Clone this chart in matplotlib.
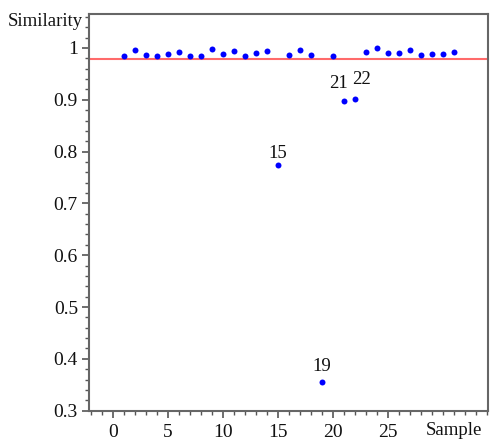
import matplotlib
matplotlib.use("Agg")
import matplotlib.pyplot as plt
from matplotlib.ticker import MultipleLocator
import matplotlib.transforms as mtransforms

samples = list(range(1, 32))
similarity = [0.985, 0.996, 0.9865, 0.985, 0.988, 0.993, 0.985, 0.985, 0.998, 0.988,
              0.994, 0.985, 0.990, 0.994, 0.774, 0.9865, 0.996, 0.9865, 0.355, 0.985,
              0.898, 0.902, 0.992, 0.9995, 0.990, 0.990, 0.996, 0.9865, 0.988, 0.988,
              0.992]
threshold = 0.979
labelled = {15: (0, 8.6), 19: (0, 11.5), 21: (-3.6, 12.2), 22: (5, 13.7)}
xticks = [0, 5, 10, 15, 20, 25]
yticks = [0.3, 0.4, 0.5, 0.6, 0.7, 0.8, 0.9, 1.0]
ytick_labels = ["0.3", "0.4", "0.5", "0.6", "0.7", "0.8", "0.9", "1"]

plt.rcParams['font.family'] = ['Liberation Serif', 'DejaVu Serif']
fig = plt.figure(figsize=(4.92, 4.44), dpi=100)
ax = fig.add_axes([89/492, 1 - 411/444, (488 - 89)/492, (411 - 14)/444])

ax.plot(samples, similarity, 'o', color='#0000ff', ms=4.3, mec='none', zorder=3)
ax.axhline(threshold, color='#ff6a6a', lw=1.5, zorder=2, clip_on=False)

for s, off in labelled.items():
    ax.annotate(str(s), (s, similarity[s - 1]), xytext=off, textcoords='offset points',
                ha='center', va='center', fontsize=13.5, color='#111111')

ax.set_xlim(-2.18, 34.1)
ax.set_ylim(0.2993, 1.0656)
ax.set_xticks(xticks)
ax.set_yticks(yticks)
ax.set_yticklabels(ytick_labels)
ax.xaxis.set_minor_locator(MultipleLocator(1))
ax.yaxis.set_minor_locator(MultipleLocator(0.02))
ax.tick_params(axis='both', which='major', direction='out', length=5, width=1.2,
               color='#555555', labelsize=14, labelcolor='#111111')
ax.tick_params(axis='both', which='minor', direction='out', length=3, width=1,
               color='#555555')
ax.tick_params(axis='x', pad=4)
ax.tick_params(axis='y', pad=3)
for sp in ax.spines.values():
    sp.set_color('#666666')
    sp.set_linewidth(1.5)

fig.text(83/492, 1 - 22/444, "Similarity", ha='right', va='center', fontsize=13.5, color='#111111')
trans = mtransforms.blended_transform_factory(ax.transData, fig.transFigure)
ax.text(31.0, 1 - 430/444, "Sample", transform=trans, ha='center', va='center',
        fontsize=13.5, color='#111111')

fig.savefig("out.png", dpi=100)
